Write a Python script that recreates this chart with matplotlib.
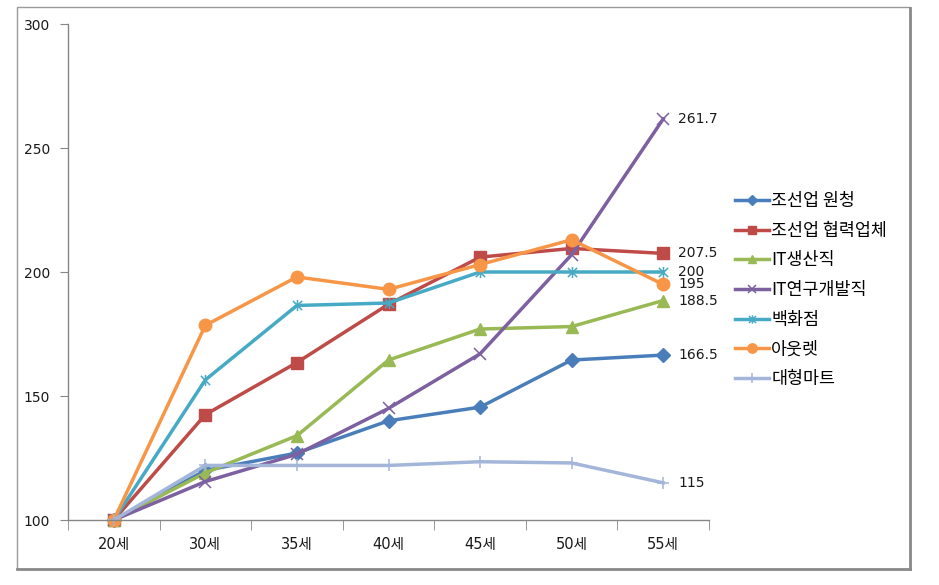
import numpy as np
import matplotlib.pyplot as plt
from matplotlib.path import Path
from matplotlib.patches import Rectangle
from matplotlib.lines import Line2D

# DejaVu digits are close to the original's wide numerals; Hangul falls back to Noto CJK
plt.rcParams['font.family'] = ['DejaVu Sans', 'Noto Sans CJK KR']
KR = ['Noto Sans CJK KR', 'DejaVu Sans']

# data
ages = ['20세', '30세', '35세', '40세', '45세', '50세', '55세']
names = ['조선업 원청', '조선업 협력업체', 'IT생산직', 'IT연구개발직', '백화점', '아웃렛', '대형마트']
shipbuild = [100, 120, 127, 140, 145.5, 164.5, 166.5]
shipbuild_sub = [100, 142.5, 163.5, 187, 206, 209.5, 207.5]
it_prod = [100, 119, 134, 164.5, 177, 178, 188.5]
it_rnd = [100, 115.5, 126.5, 145, 167, 207, 261.7]
dept_store = [100, 156.5, 186.5, 187.5, 200, 200, 200]
outlet = [100, 178.5, 198, 193, 203, 213, 195]
mart = [100, 122, 122, 122, 123.5, 123, 115]
end_labels = ['166.5', '207.5', '188.5', '261.7', '200', '195', '115']

series = [shipbuild, shipbuild_sub, it_prod, it_rnd, dept_store, outlet, mart]

# excel-ish star marker (x with a vertical bar)
star = Path([(-1, -1), (1, 1), (-1, 1), (1, -1), (0, -1.2), (0, 1.2)],
            [Path.MOVETO, Path.LINETO, Path.MOVETO, Path.LINETO, Path.MOVETO, Path.LINETO])

colors = ['#4a7ebb', '#be4b48', '#98b954', '#7d60a0', '#46aac5', '#f79646', '#a3b5d9']
markers = ['D', 's', '^', 'x', star, 'o', '+']
msizes = [7, 8.5, 8.5, 8, 8, 9, 9]

fig = plt.figure(figsize=(9.39, 5.85), dpi=100)
ax = fig.add_axes([68/939, 1 - 520/585, (709-68)/939, (520-24)/585])

x = np.arange(len(ages))
for vals, name, c, m, ms in zip(series, names, colors, markers, msizes):
    filled = m in ('D', 's', '^', 'o')
    ax.plot(x, vals, color=c, lw=2.5, marker=m, ms=ms,
            mfc=c if filled else 'none', mec=c, mew=1.0 if filled else 1.1,
            label=name, solid_joinstyle='round')

for vals, lab in zip(series, end_labels):
    ax.annotate(lab, (x[-1], vals[-1]), xytext=(11, 0), textcoords='offset points',
                va='center', ha='left', fontsize=10, color='#1a1a1a')

ax.set_xlim(-0.5, 6.5)
ax.set_ylim(100, 300)
ax.set_yticks([100, 150, 200, 250, 300])
ax.set_xticks(x)
ax.set_xticklabels(ages)
ax.set_xticks(np.arange(-0.5, 7, 1), minor=True)

for s in ['top', 'right']:
    ax.spines[s].set_visible(False)
for s in ['left', 'bottom']:
    ax.spines[s].set_color('#868686')
    ax.spines[s].set_linewidth(1.0)
ax.tick_params(axis='y', direction='out', length=6, color='#868686', labelsize=10,
               labelcolor='#1a1a1a', pad=7)
ax.tick_params(axis='x', which='major', length=0, labelsize=10.5, labelcolor='#1a1a1a', pad=12)
ax.tick_params(axis='x', which='minor', direction='out', length=7, color='#868686')
for ln in ax.lines:
    ln.set_clip_on(False)

handles, labels = ax.get_legend_handles_labels()
fig.legend(handles, labels, loc='center left', bbox_to_anchor=(719/939, 1 - 290/585),
           frameon=False, prop={'family': KR, 'size': 12.5}, handlelength=2.0,
           handletextpad=0.1, labelspacing=0.67, markerscale=0.75)

# chart border
fig.patches.append(Rectangle((17/939, 1 - 569/585), (910-17)/939, (569-7)/585,
                             transform=fig.transFigure, fill=False,
                             edgecolor='#9a9a9a', lw=1.0))
fig.lines.append(Line2D([910/939, 910/939], [1 - 569/585, 1 - 8/585],
                        transform=fig.transFigure, color='#8a8a8a', lw=2))
fig.lines.append(Line2D([17/939, 910/939], [1 - 569/585, 1 - 569/585],
                        transform=fig.transFigure, color='#8a8a8a', lw=2))

fig.savefig('out.png', dpi=100)
